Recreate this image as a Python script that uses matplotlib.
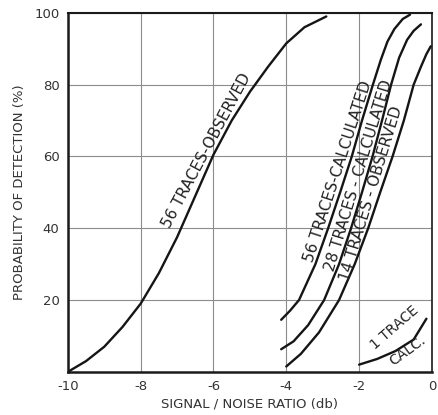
import matplotlib
matplotlib.use("Agg")
import matplotlib.pyplot as plt
import numpy as np

# ---- data ----
obs56_x = [-10, -9.5, -9, -8.5, -8, -7.5, -7, -6.5, -6, -5.5, -5, -4.5, -4, -3.5, -2.9]
obs56_y = [0, 3, 7, 12.5, 19, 27.5, 37.5, 49, 60.5, 70, 78, 85, 91.5, 96, 99]

calc56_x = [-4.14, -3.9, -3.65, -3.2, -2.85, -2.52, -2.2, -1.92, -1.62, -1.4, -1.22, -1.03, -0.8, -0.6]
calc56_y = [14.5, 17, 20, 30, 40, 50, 60, 70, 80, 87, 92, 95.5, 98.3, 99.5]

calc28_x = [-4.14, -3.8, -3.4, -2.96, -2.55, -2.22, -1.92, -1.63, -1.37, -1.12, -0.9, -0.68, -0.5, -0.3]
calc28_y = [6.3, 8.5, 13, 20, 30, 40, 50, 60, 70, 80, 87.5, 92.5, 95, 96.8]

obs14_x = [-4.0, -3.6, -3.1, -2.55, -2.12, -1.75, -1.42, -1.08, -0.77, -0.5, -0.3, -0.15, -0.03]
obs14_y = [1.5, 5, 11, 20, 30, 40, 50, 60, 70, 80, 85, 88.5, 90.7]

calc1_x = [-2.0, -1.5, -1.0, -0.5, -0.15]
calc1_y = [2, 3.6, 5.8, 9, 14.8]

x_ticks = [-10, -8, -6, -4, -2, 0]
x_tick_labels = ["-10", "-8", "-6", "-4", "-2", "0"]
y_ticks = [20, 40, 60, 80, 100]
y_tick_labels = ["20", "40", "60", "80", "100"]

# text, anchor point on its curve (x, y), angle (deg), perpendicular offset (px)
curve_labels = [
    ("56 TRACES-OBSERVED", -6.0, 60.5, 62, 8),
    ("56 TRACES-CALCULATED", -2.36, 55, 72, 8),
    ("28 TRACES - CALCULATED", -1.8, 54, 73, 8),
    ("14 TRACES - OBSERVED", -1.45, 49, 73, 8),
]
small_labels = [
    ("1 TRACE", -1.04, 12.2, 41),
    ("CALC.", -0.66, 5.8, 36),
]

# ---- figure ----
plt.rcParams['font.family'] = ['DejaVu Sans']
fig = plt.figure(figsize=(4.38, 4.15), dpi=100)
ax = fig.add_axes([0.155, 0.104, 0.831, 0.865])

ink = '#151515'
lw = 1.7
for xs, ys in [(obs56_x, obs56_y), (calc56_x, calc56_y), (calc28_x, calc28_y),
               (obs14_x, obs14_y), (calc1_x, calc1_y)]:
    ax.plot(xs, ys, color=ink, lw=lw, solid_capstyle='round', solid_joinstyle='round')

ax.set_xlim(-10, 0)
ax.set_ylim(0, 100)
ax.set_xticks(x_ticks)
ax.set_xticklabels(x_tick_labels)
ax.set_yticks(y_ticks)
ax.set_yticklabels(y_tick_labels)
ax.grid(True, color='#8c8c8c', lw=0.8)
ax.tick_params(length=0, labelsize=9.5, colors='#333333', pad=6)

for side, w in [('left', 1.8), ('bottom', 1.8), ('top', 1.5), ('right', 1.2)]:
    ax.spines[side].set_linewidth(w)
    ax.spines[side].set_color('#1a1a1a')

ax.set_xlabel("SIGNAL / NOISE RATIO (db)", fontsize=9.5, color='#333333', labelpad=3)
ax.set_ylabel("PROBABILITY OF DETECTION (%)", fontsize=9.5, color='#333333', labelpad=6)

for txt, x, y, rot, d in curve_labels:
    th = np.radians(rot)
    dx, dy = -np.sin(th) * d * 0.72, np.cos(th) * d * 0.72
    ax.annotate(txt, xy=(x, y), xytext=(dx, dy), textcoords='offset points',
                rotation=rot, rotation_mode='anchor', ha='center', va='center',
                fontsize=11, color='#222222')

for txt, x, y, rot in small_labels:
    ax.text(x, y, txt, rotation=rot, rotation_mode='anchor', ha='center', va='center',
            fontsize=10, color='#222222')

fig.savefig("out.png", dpi=100)
